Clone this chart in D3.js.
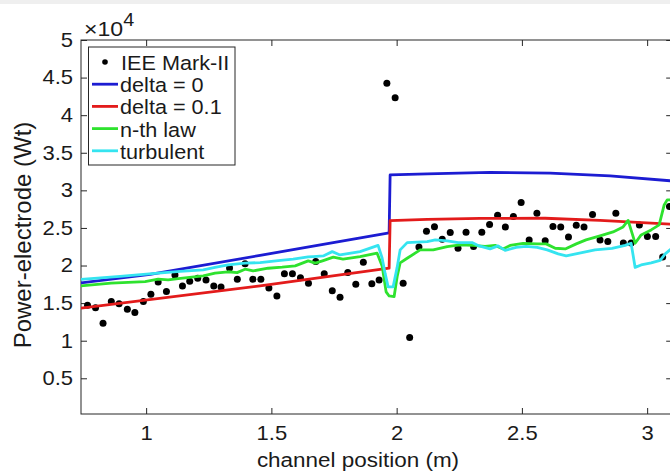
<!DOCTYPE html>
<html><head><meta charset="utf-8">
<script src="https://cdn.jsdelivr.net/npm/d3@7"></script>
<style>html,body{margin:0;padding:0;background:#fff;} svg{display:block;}</style>
</head><body>
<svg id="chart" width="670" height="472"></svg>
<script>
// Axis ticks
const xTicks = [1, 1.5, 2, 2.5, 3];
const yTicks = [5000, 10000, 15000, 20000, 25000, 30000, 35000, 40000, 45000, 50000];

// Measured electrode power (IEE Mark-II)
const markX = [0.766,0.798,0.828,0.861,0.892,0.925,0.955,0.989,1.019,1.048,1.081,1.115,1.145,1.174,1.206,1.239,1.270,1.299,1.333,1.364,1.395,1.426,1.458,1.490,1.522,1.552,1.584,1.616,1.648,1.677,1.711,1.743,1.774,1.805,1.837,1.867,1.901,1.930,1.961,1.994,2.026,2.052,2.089,2.119,2.151,2.182,2.214,2.245,2.277,2.307,2.340,2.371,2.403,2.434,2.466,2.497,2.529,2.560,2.593,2.624,2.655,2.686,2.717,2.748,2.782,2.812,2.843,2.875,2.905,2.936,2.969,3.001,3.034,3.062,3.089];
const markY = [14720,14400,12330,15200,14900,14190,13740,15200,16190,17820,16530,18750,17290,17920,18310,18060,17290,17160,19680,18180,20220,18180,18180,17020,15960,18890,18890,18390,17650,20520,18890,16630,15790,19060,17520,20440,17560,18090,44250,42330,17650,10410,22480,24570,25160,23500,24410,22290,24420,22520,24430,25470,26690,25140,26510,28370,23410,26960,23280,25200,25110,23810,25360,25140,26790,23410,23210,26960,23010,23010,25400,23850,23850,21150,27840];

// Model: delta = 0
const delta0X = [0.740,1.016,1.455,1.970,1.974,2.122,2.373,2.613,2.852,3.100];
const delta0Y = [17690,18820,21350,24340,32050,32190,32390,32280,31920,31250];

// Model: delta = 0.1
const delta01X = [0.740,1.455,1.970,1.974,2.122,2.333,2.593,2.812,3.100];
const delta01Y = [14320,17290,19640,25970,26130,26270,26290,26000,25500];

// Model: n-th law
const nthX = [0.740,0.860,0.996,1.048,1.088,1.128,1.228,1.275,1.327,1.363,1.395,1.427,1.487,1.543,1.595,1.647,1.675,1.707,1.747,1.786,1.854,1.922,1.942,1.958,1.970,1.990,2.002,2.014,2.042,2.094,2.146,2.202,2.253,2.305,2.353,2.393,2.425,2.453,2.505,2.561,2.597,2.633,2.673,2.717,2.756,2.812,2.864,2.904,2.924,2.952,2.976,3.016,3.048,3.068,3.080,3.100];
const nthY = [17290,17650,17860,18180,18090,18260,18620,18980,19170,19060,19510,19290,19640,19780,19950,20620,20310,20660,21110,20840,21190,21640,19950,16500,15950,15870,18500,20350,20970,22080,22080,22520,22740,22680,22540,22680,22210,22680,22950,22880,22880,22300,22210,22880,23410,23940,24470,25140,26000,22970,24070,24740,25400,28060,28730,28730];

// Model: turbulent
const turbX = [0.740,0.896,1.036,1.136,1.228,1.275,1.327,1.395,1.455,1.527,1.587,1.647,1.667,1.707,1.743,1.774,1.854,1.926,1.942,1.954,1.966,1.986,2.002,2.014,2.042,2.122,2.154,2.202,2.246,2.301,2.329,2.373,2.405,2.433,2.477,2.517,2.561,2.601,2.645,2.677,2.725,2.792,2.860,2.912,2.936,2.952,2.976,3.016,3.052,3.072,3.100];
const turbY = [18150,18550,18950,19220,19420,19750,20080,20310,20390,20660,20840,21150,21190,21280,21850,21410,21850,22680,21010,18950,17160,17160,19750,22080,23050,23180,23410,23280,23050,23050,22610,22210,22610,22010,22410,22540,22410,22080,21550,21280,21610,22080,22280,22680,22970,19750,20080,20350,20680,21550,22340];

const seriesNames = ["delta = 0", "delta = 0.1", "n-th law", "turbulent"];
const seriesColors = ["#1c1cd2", "#e31b1b", "#2ee22e", "#35e4f0"];

const FONT = "'Liberation Sans', Arial, Helvetica, sans-serif";
const SX = 1.1; // horizontal text stretch

const svg = d3.select("#chart");
const W = 670, H = 472;
const pLeft = 81, pRight = 672.2, pTop = 40, pBottom = 414;

svg.append("rect").attr("width", W).attr("height", H).attr("fill", "#fff");
svg.append("rect").attr("width", W).attr("height", 4).attr("fill", "#efefef");

const x = d3.scaleLinear().domain([0.74, 3.1]).range([pLeft, pRight]);
const y = d3.scaleLinear().domain([250, 50000]).range([pBottom, pTop]);

svg.append("defs").append("clipPath").attr("id", "plotClip")
  .append("rect").attr("x", pLeft).attr("y", pTop).attr("width", pRight - pLeft).attr("height", pBottom - pTop);

// stretch text horizontally around its anchor
function stretch(sel, sx) {
  sel.each(function () {
    const t = d3.select(this);
    const xv = +t.attr("x") || 0;
    t.attr("x", xv / sx).attr("transform", `scale(${sx},1)`);
  });
}

const tickLen = 6;
const axisColor = "#262626";
const textColor = "#1a1a1a";

// bottom axis with labels
const gx = svg.append("g").attr("transform", `translate(0,${pBottom})`)
  .call(d3.axisBottom(x).tickValues(xTicks).tickSize(-tickLen).tickPadding(12).tickFormat(d3.format("")));
gx.select(".domain").remove();
gx.selectAll("line").attr("stroke", axisColor);
gx.selectAll("text").attr("font-family", FONT).attr("font-size", 20).attr("fill", textColor).call(stretch, SX);

// top axis ticks
const gxt = svg.append("g").attr("transform", `translate(0,${pTop})`)
  .call(d3.axisTop(x).tickValues(xTicks).tickSize(-tickLen).tickFormat(""));
gxt.select(".domain").remove();
gxt.selectAll("line").attr("stroke", axisColor);

// left axis with labels
const gy = svg.append("g").attr("transform", `translate(${pLeft},0)`)
  .call(d3.axisLeft(y).tickValues(yTicks).tickSize(-tickLen).tickPadding(8).tickFormat(d => d3.format("")(d / 10000)));
gy.select(".domain").remove();
gy.selectAll("line").attr("stroke", axisColor);
gy.selectAll("text").attr("font-family", FONT).attr("font-size", 20).attr("fill", textColor).call(stretch, SX);

// right axis ticks
const gyr = svg.append("g").attr("transform", `translate(${pRight},0)`)
  .call(d3.axisRight(y).tickValues(yTicks).tickSize(-tickLen).tickFormat(""));
gyr.select(".domain").remove();
gyr.selectAll("line").attr("stroke", axisColor);

// frame
svg.append("rect").attr("x", pLeft).attr("y", pTop).attr("width", pRight - pLeft).attr("height", pBottom - pTop)
  .attr("fill", "none").attr("stroke", axisColor).attr("stroke-width", 1);

const plot = svg.append("g").attr("clip-path", "url(#plotClip)");

// data points
plot.selectAll("circle.mark").data(d3.range(markX.length)).join("circle")
  .attr("class", "mark")
  .attr("cx", i => x(markX[i])).attr("cy", i => y(markY[i])).attr("r", 3.5).attr("fill", "#000");

// model curves
const line = d3.line().x(d => x(d[0])).y(d => y(d[1]));
const curves = [[delta0X, delta0Y], [delta01X, delta01Y], [nthX, nthY], [turbX, turbY]];
curves.forEach((c, k) => {
  plot.append("path").datum(d3.zip(c[0], c[1]))
    .attr("d", line).attr("fill", "none").attr("stroke", seriesColors[k])
    .attr("stroke-width", 2.8).attr("stroke-linejoin", "round");
});

// exponent label
const expo = svg.append("text").attr("font-family", FONT).attr("fill", textColor)
  .attr("transform", `translate(84,36) scale(${SX},1)`);
expo.append("tspan").attr("font-size", 21).text("×10");
expo.append("tspan").attr("font-size", 18).attr("dy", -10).text("4");

// axis titles
svg.append("text").attr("font-family", FONT).attr("font-size", 21).attr("fill", textColor)
  .attr("text-anchor", "middle")
  .attr("transform", `translate(358,467) scale(1.07,1)`)
  .text("channel position (m)");
svg.append("text").attr("font-family", FONT).attr("font-size", 24).attr("fill", textColor)
  .attr("text-anchor", "middle")
  .attr("transform", `translate(31,${(pTop + pBottom) / 2 + 8}) rotate(-90)`)
  .text("Power-electrode (Wt)");

// legend
const lg = svg.append("g");
lg.append("rect").attr("x", 88.5).attr("y", 47).attr("width", 146.5).attr("height", 118)
  .attr("fill", "#fff").attr("stroke", axisColor).attr("stroke-width", 1);
const rowY = d => 62 + d * 22.2;
lg.append("circle").attr("cx", 105).attr("cy", rowY(0)).attr("r", 2.8).attr("fill", "#000");
lg.append("text").attr("font-family", FONT).attr("font-size", 19.5).attr("fill", textColor)
  .attr("dominant-baseline", "central")
  .attr("transform", `translate(121,${rowY(0) + 1}) scale(1.11,1)`).text("IEE Mark-II");
seriesNames.forEach((name, k) => {
  const yy = rowY(k + 1);
  lg.append("line").attr("x1", 92).attr("x2", 118).attr("y1", yy).attr("y2", yy)
    .attr("stroke", seriesColors[k]).attr("stroke-width", 2.8);
  lg.append("text").attr("font-family", FONT).attr("font-size", 19.5).attr("fill", textColor)
    .attr("dominant-baseline", "central")
    .attr("transform", `translate(120,${yy + 1}) scale(1.11,1)`).text(name);
});
</script>
</body></html>
